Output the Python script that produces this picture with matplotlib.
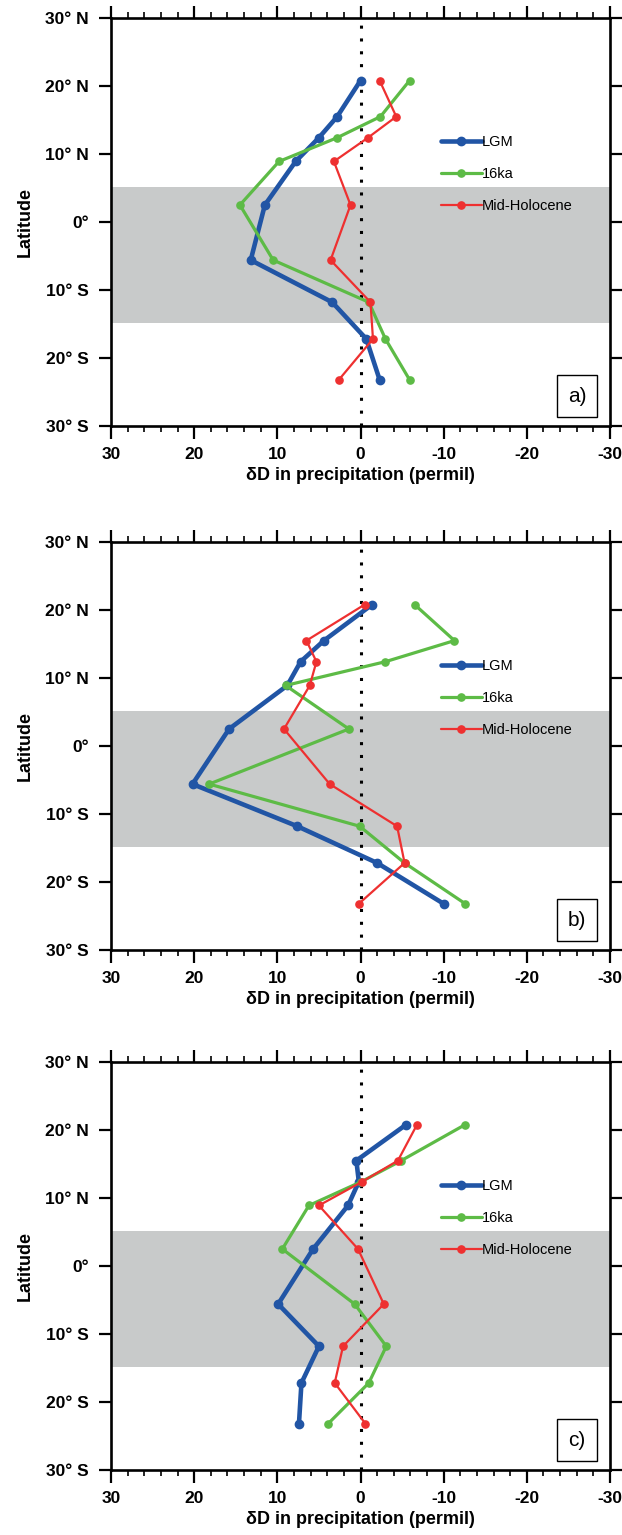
import matplotlib
matplotlib.use("Agg")
import matplotlib.pyplot as plt
from matplotlib.ticker import MultipleLocator, FixedLocator
from matplotlib.patches import Rectangle

plt.rcParams['font.family'] = ['Liberation Sans', 'DejaVu Sans']

# ---------------- data ----------------
lats = [20.8, 15.5, 12.4, 8.9, 2.5, -5.6, -11.8, -17.2, -23.2]

# panel a
a_lgm = [0.0, 2.8, 5.0, 7.8, 11.5, 13.2, 3.4, -0.7, -2.3]
a_16ka = [-5.9, -2.4, 2.8, 9.8, 14.5, 10.5, -1.0, -3.0, -5.9]
a_mh = [-2.3, -4.3, -0.9, 3.2, 1.2, 3.6, -1.2, -1.5, 2.6]

# panel b
b_lgm = [-1.4, 4.4, 7.2, 8.8, 15.8, 20.2, 7.6, -2.0, -10.0]
b_16ka = [-6.5, -11.3, -3.0, 9.0, 1.4, 18.2, 0.1, -5.3, -12.6]
b_mh = [-0.5, 6.5, 5.3, 6.1, 9.2, 3.7, -4.4, -5.3, 0.2]

# panel c
c_lgm = [-5.5, 0.5, 0.2, 1.5, 5.7, 9.9, 5.0, 7.1, 7.4]
c_16ka = [-12.6, -4.9, -0.1, 6.2, 9.4, 0.7, -3.1, -1.0, 3.9]
c_mh = [-6.8, -4.5, -0.2, 5.0, 0.3, -2.8, 2.1, 3.1, -0.6]

series_names = ["LGM", "16ka", "Mid-Holocene"]
panel_labels = ["a)", "b)", "c)"]
panels = [(a_lgm, a_16ka, a_mh), (b_lgm, b_16ka, b_mh), (c_lgm, c_16ka, c_mh)]

band = (-14.9, 5.2)
x_ticks = [30, 20, 10, 0, -10, -20, -30]
y_ticks = [30, 20, 10, 0, -10, -20, -30]
y_ticklabels = ["30° N", "20° N", "10° N", "0°", "10° S", "20° S", "30° S"]

# ---------------- styling ----------------
colors = ["#2155a5", "#5dbb46", "#ee3030"]
lws = [3.3, 2.3, 1.6]
mss = [6.0, 5.2, 5.2]

W, H = 622, 1535
fig = plt.figure(figsize=(W / 100, H / 100), dpi=100)

tops = [18, 542, 1062]
ax_h = 408
left_px, right_px = 111, 610

for i, (data, lab) in enumerate(zip(panels, panel_labels)):
    top = tops[i]
    ax = fig.add_axes([left_px / W, 1 - (top + ax_h) / H,
                       (right_px - left_px) / W, ax_h / H])
    ax.axhspan(band[0], band[1], color="#c8caca", lw=0, zorder=0)
    ax.axvline(0, color="black", lw=2.2, ls=(0, (1, 3.2)), zorder=1)
    handles = []
    for vals, name, c, lw, ms in zip(data, series_names, colors, lws, mss):
        h, = ax.plot(vals, lats, color=c, lw=lw, marker="o", ms=ms,
                     mec=c, mfc=c, label=name, zorder=3, solid_capstyle="round")
        handles.append(h)
    ax.set_xlim(30, -30)
    ax.set_ylim(-30, 30)
    ax.xaxis.set_major_locator(FixedLocator(x_ticks))
    ax.xaxis.set_minor_locator(MultipleLocator(2))
    ax.yaxis.set_major_locator(FixedLocator(y_ticks))
    ax.set_yticklabels(y_ticklabels)
    ax.set_xticklabels([str(t) for t in x_ticks])
    ax.tick_params(axis="both", which="major", direction="out", length=9,
                   width=1.6, top=True, right=True, labelsize=12.5)
    ax.tick_params(axis="x", which="major", pad=6)
    ax.tick_params(axis="y", which="major", pad=7)
    ax.tick_params(axis="x", which="minor", direction="out", length=4,
                   width=1.2, top=True, bottom=True)
    for lbl in ax.get_xticklabels() + ax.get_yticklabels():
        lbl.set_fontweight("bold")
    for sp in ax.spines.values():
        sp.set_linewidth(1.9)
    ax.set_xlabel("δD in precipitation (permil)", fontsize=13,
                  fontweight="bold", labelpad=4)
    ax.set_ylabel("Latitude", fontsize=13, fontweight="bold", labelpad=8)
    ax.legend(handles=handles, loc="upper left",
              bbox_to_anchor=(0.661, 0.714), frameon=False,
              fontsize=10.5, handlelength=2.8, handletextpad=0.0,
              labelspacing=1.25, borderaxespad=0, borderpad=0)
    ax.add_patch(Rectangle((0.894, 0.022), 0.080, 0.103,
                           transform=ax.transAxes, fc="white", ec="black",
                           lw=1.0, zorder=5))
    ax.text(0.934, 0.0735, lab, transform=ax.transAxes, fontsize=15,
            ha="center", va="center", zorder=6)

fig.savefig("out.png", dpi=100)
